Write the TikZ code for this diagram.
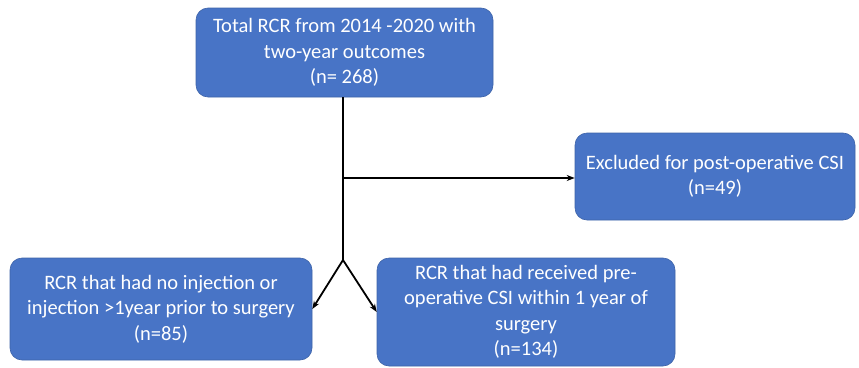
\documentclass[tikz,border=0pt]{standalone}
\usepackage{fontspec}
\setmainfont{Carlito}
\usetikzlibrary{arrows.meta}
\definecolor{boxblue}{RGB}{72,116,198}
\begin{document}
\begin{tikzpicture}[x=1pt,y=-1pt,
  flowbox/.style={draw=boxblue!85!black, line width=0.6pt, fill=boxblue, rounded corners=12pt, text=white, align=center,
    font=\fontsize{20.5}{25.5}\selectfont, inner sep=0pt},
  conn/.style={line width=1.8pt, -{Stealth[length=8pt,width=6pt]}}]
\useasboundingbox (0,0) rectangle (859,367);
\node[flowbox, minimum width=297pt, minimum height=89pt] (top) at (344.5,52.5)
  {Total RCR from 2014 -2020 with\\two-year outcomes\\(n= 268)};
\node[flowbox, minimum width=280pt, minimum height=87pt] (excl) at (715,176.5)
  {Excluded for post-operative CSI\\(n=49)};
\node[flowbox, minimum width=302pt, minimum height=102pt] (left) at (161,309)
  {RCR that had no injection or\\injection >1year prior to surgery\\(n=85)};
\node[flowbox, minimum width=298pt, minimum height=108pt] (right) at (526,312)
  {RCR that had received pre-\\operative CSI within 1 year of\\surgery\\(n=134)};
\coordinate (split) at (343,260);
\coordinate (tee) at (343,178);
\draw[line width=1.8pt] (top.south -| split) -- (split);
\draw[conn] (tee) -- (tee -| excl.west);
\draw[conn] (split) -- (left.east);
\draw[conn] (split) -- (right.west);
\end{tikzpicture}
\end{document}
